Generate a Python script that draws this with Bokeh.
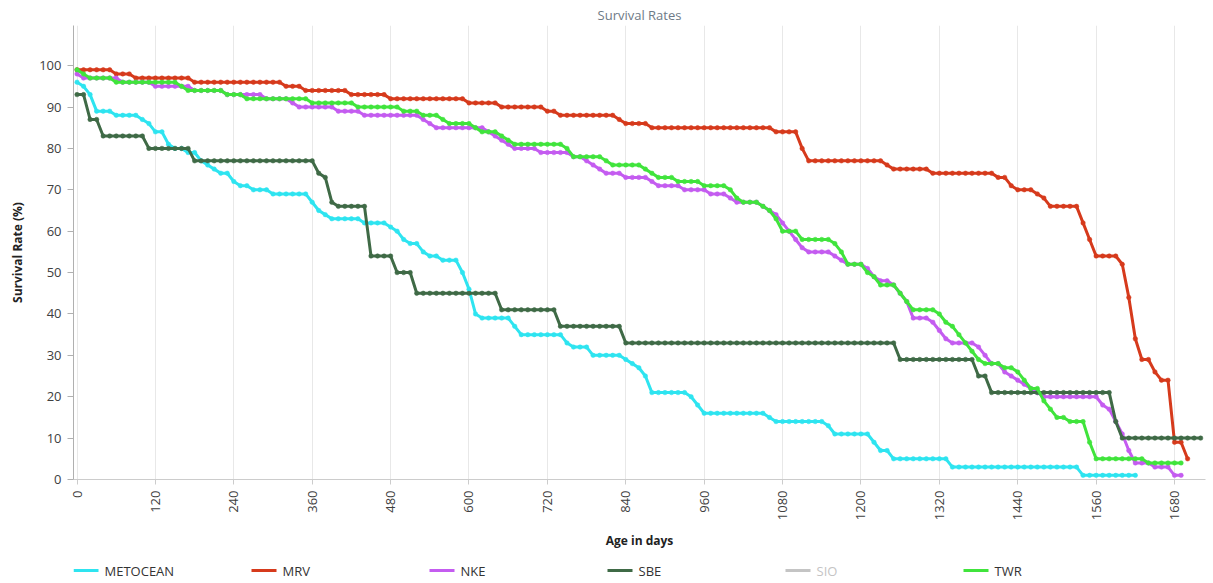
import math
import numpy as np
from bokeh.plotting import figure
from bokeh.layouts import column
from bokeh.models import Range1d, FixedTicker, ColumnDataSource
from bokeh.core.properties import value
from bokeh.embed import file_html
from bokeh.resources import INLINE

# ---------------- data ----------------
STEP_DAYS = 10  # one point every 10 days (float cycle)

series_names = ["METOCEAN", "MRV", "NKE", "SBE", "SIO", "TWR"]
hidden_series = ["SIO"]   # greyed out in the reference legend, not drawn

# survival rate levels (%) and the number of consecutive points at each level
metocean_levels = [96, 95, 93, 89, 88, 87, 86, 84, 81, 80, 79, 77, 76, 75, 74, 72, 71, 70, 69, 67,
                   65, 64, 63, 62, 61, 60, 58, 57, 55, 54, 53, 50, 46, 40, 39, 37, 35, 33, 32, 30,
                   29, 28, 27, 25, 21, 20, 18, 16, 15, 14, 13, 11, 9, 7, 5, 3, 1]
metocean_counts = [1, 1, 1, 3, 4, 1, 1, 2, 1, 2, 2, 1, 1, 1, 2, 1, 2, 3, 6, 1,
                   1, 1, 5, 4, 1, 1, 1, 2, 1, 2, 3, 1, 1, 1, 5, 1, 7, 1, 3, 5,
                   1, 1, 1, 1, 6, 1, 1, 10, 1, 8, 1, 6, 1, 2, 9, 20, 9]

mrv_levels = [99, 98, 97, 96, 95, 94, 93, 92, 91, 90, 89, 88, 87, 86, 85, 84, 80, 77, 76, 75,
              74, 73, 71, 70, 69, 68, 66, 62, 58, 54, 52, 44, 34, 29, 26, 24, 9, 5]
mrv_counts = [6, 3, 9, 14, 3, 7, 6, 12, 5, 7, 2, 9, 1, 4, 19, 4, 1, 12, 1, 6,
              10, 2, 1, 3, 1, 1, 5, 1, 1, 4, 1, 1, 1, 2, 1, 2, 2, 1]

nke_levels = [98, 97, 96, 95, 94, 93, 92, 91, 90, 89, 88, 87, 86, 85, 84, 83, 82, 81, 80, 79,
              78, 77, 76, 75, 74, 73, 72, 71, 70, 69, 68, 67, 66, 65, 64, 62, 60, 58, 56, 55,
              54, 53, 52, 51, 49, 48, 47, 45, 43, 39, 38, 36, 34, 33, 32, 30, 28, 26, 25, 24,
              23, 22, 21, 20, 18, 17, 14, 11, 7, 4, 3, 1]
nke_counts = [1, 6, 5, 6, 5, 6, 4, 1, 6, 4, 9, 1, 1, 8, 1, 1, 1, 1, 4, 5,
              2, 1, 1, 1, 3, 4, 1, 4, 4, 3, 1, 4, 1, 1, 1, 1, 1, 1, 1, 4,
              1, 1, 3, 1, 1, 2, 1, 1, 1, 3, 1, 1, 1, 4, 1, 1, 2, 1, 1, 1,
              1, 1, 1, 9, 1, 1, 1, 1, 1, 3, 3, 2]

sbe_levels = [93, 87, 83, 80, 77, 74, 73, 67, 66, 54, 50, 45, 41, 37, 33, 29, 25, 21, 14, 10]
sbe_counts = [2, 2, 7, 7, 19, 1, 1, 1, 5, 4, 3, 13, 9, 10, 42, 12, 2, 19, 1, 13]

sio_levels = []
sio_counts = []

twr_levels = [99, 98, 97, 96, 95, 94, 93, 92, 91, 90, 89, 88, 87, 86, 85, 84, 83, 82, 81, 80,
              78, 77, 76, 75, 74, 73, 72, 71, 70, 68, 67, 66, 65, 63, 60, 58, 57, 55, 52, 50,
              49, 47, 45, 43, 41, 40, 38, 37, 35, 33, 31, 29, 28, 27, 26, 24, 22, 19, 17, 15,
              14, 9, 5, 4]
twr_counts = [1, 1, 4, 10, 1, 6, 3, 10, 7, 7, 3, 3, 1, 4, 1, 3, 1, 1, 8, 1,
              5, 1, 5, 1, 1, 3, 4, 4, 1, 1, 3, 1, 1, 1, 3, 5, 1, 1, 3, 1,
              1, 3, 1, 1, 4, 1, 1, 1, 1, 1, 1, 1, 3, 2, 1, 1, 2, 1, 1, 2,
              3, 1, 8, 6]

x_tick_values = [0, 120, 240, 360, 480, 600, 720, 840, 960, 1080, 1200, 1320, 1440, 1560, 1680]
y_tick_values = [0, 10, 20, 30, 40, 50, 60, 70, 80, 90, 100]

# ---------------- styles ----------------
colors = {"METOCEAN": "#2ee4f0", "MRV": "#d63a1c", "NKE": "#c45cf0",
          "SBE": "#3f6a46", "SIO": "#c4c4c4", "TWR": "#40e43c"}
FONT = "Open Sans"
W = 1212
FRAME_LEFT = 73
FRAME_RIGHT = W - 7

levels = {"METOCEAN": metocean_levels, "MRV": mrv_levels, "NKE": nke_levels,
          "SBE": sbe_levels, "SIO": sio_levels, "TWR": twr_levels}
counts = {"METOCEAN": metocean_counts, "MRV": mrv_counts, "NKE": nke_counts,
          "SBE": sbe_counts, "SIO": sio_counts, "TWR": twr_counts}

p = figure(width=W, height=558, output_backend="svg", toolbar_location=None,
           x_range=Range1d(-5.4, 1727.4), y_range=Range1d(0, 109.7),
           min_border_left=FRAME_LEFT, min_border_right=W - FRAME_RIGHT,
           min_border_top=25, min_border_bottom=79,
           title="Survival Rates")
p.outline_line_color = None
p.background_fill_color = "white"

p.title.align = "center"
p.title.text_font = FONT
p.title.text_font_size = "13px"
p.title.text_font_style = "normal"
p.title.text_color = "#6e7a86"
p.title.standoff = 4

# axes
p.xaxis.ticker = FixedTicker(ticks=x_tick_values)
p.yaxis.ticker = FixedTicker(ticks=y_tick_values)
p.xaxis.major_label_orientation = math.pi / 2
for ax in (p.xaxis, p.yaxis):
    ax.major_label_text_font = FONT
    ax.major_label_text_font_size = "13px"
    ax.major_label_text_color = "#404040"
    ax.axis_label_text_font = FONT
    ax.axis_label_text_font_size = "12px"
    ax.axis_label_text_font_style = "bold"
    ax.axis_label_text_color = "#222222"
    ax.minor_tick_line_color = None
    ax.major_tick_in = 0
p.xaxis.axis_label = "Age in days"
p.yaxis.axis_label = "Survival Rate (%)"
p.xaxis.axis_line_color = "#cccccc"
p.xaxis.major_tick_line_color = "#cccccc"
p.xaxis.major_tick_out = 5
p.xaxis.major_label_standoff = 6
p.xaxis.axis_label_standoff = 9
p.yaxis.axis_line_color = "#b0b0b0"
p.yaxis.major_tick_line_color = "#b0b0b0"
p.yaxis.major_tick_out = 6
p.yaxis.major_label_standoff = 6
p.yaxis.axis_label_standoff = 10

p.xgrid.ticker = FixedTicker(ticks=x_tick_values)
p.xgrid.grid_line_color = "#e8e8e8"
p.ygrid.grid_line_color = None

for name in series_names:
    if name in hidden_series:
        continue
    vals = np.repeat(np.array(levels[name], dtype=float), np.array(counts[name], dtype=int))
    days = np.arange(len(vals)) * STEP_DAYS
    src = ColumnDataSource(dict(x=days, y=vals))
    p.line("x", "y", source=src, line_color=colors[name], line_width=3)
    p.scatter("x", "y", source=src, marker="circle", size=4.5,
              fill_color=colors[name], line_color=colors[name], line_width=0.5)

# ---------------- legend row (its own small canvas; its frame is aligned with the plot frame) ----
LEG_H = 24
ITEM_PITCH = 178
leg = figure(width=W, height=LEG_H, output_backend="svg", toolbar_location=None,
             x_range=Range1d(FRAME_LEFT, FRAME_RIGHT), y_range=Range1d(0, LEG_H),
             x_axis_type=None, y_axis_type=None,
             min_border_left=FRAME_LEFT, min_border_right=W - FRAME_RIGHT,
             min_border_top=0, min_border_bottom=0)
leg.outline_line_color = None
leg.grid.visible = False

x0 = [FRAME_LEFT + i * ITEM_PITCH for i in range(len(series_names))]
leg_src = ColumnDataSource(dict(
    x0=x0,
    x1=[v + 25 for v in x0],
    xt=[v + 31 for v in x0],
    y=[LEG_H / 2] * len(series_names),
    name=series_names,
    line_color=[colors[n] for n in series_names],
    text_color=["#c4c4c4" if n in hidden_series else "#333333" for n in series_names],
))
leg.segment(x0="x0", y0="y", x1="x1", y1="y", source=leg_src, line_color="line_color", line_width=3)
leg.text(x="xt", y="y", text="name", source=leg_src, text_color="text_color",
         text_font=value(FONT), text_font_size=value("13px"), text_baseline="middle",
         text_align="left")

layout = column(p, leg, spacing=0)
open("out.html", "w").write(file_html(layout, INLINE))
